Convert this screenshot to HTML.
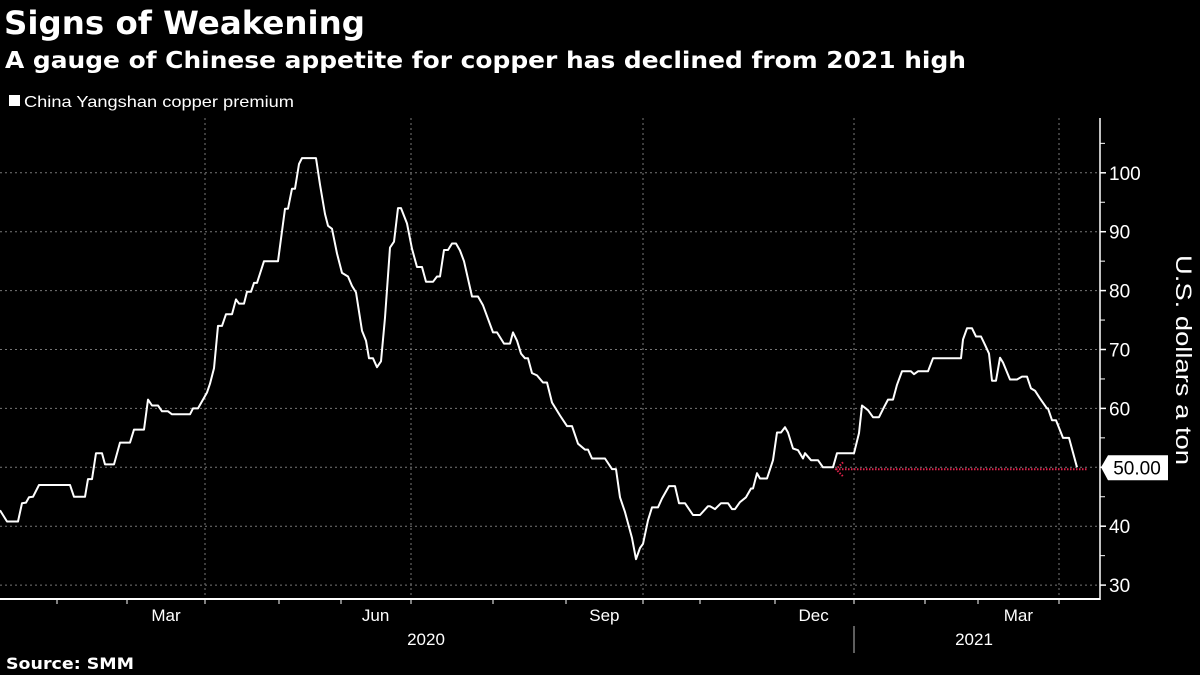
<!DOCTYPE html>
<html><head><meta charset="utf-8">
<style>
html,body{margin:0;padding:0;background:#000;}
svg{display:block;font-family:"Liberation Sans",sans-serif;}
</style></head>
<body>
<svg id="chart" width="1200" height="675" viewBox="0 0 1200 675" xmlns="http://www.w3.org/2000/svg">
<rect width="1200" height="675" fill="#000"/>
<text x="4" y="34" fill="#fff" font-size="32" font-weight="bold" textLength="361" lengthAdjust="spacingAndGlyphs" font-family="DejaVu Sans, sans-serif">Signs of Weakening</text>
<text x="5" y="68" fill="#fff" font-size="23" font-weight="bold" textLength="961" lengthAdjust="spacingAndGlyphs" font-family="DejaVu Sans, sans-serif">A gauge of Chinese appetite for copper has declined from 2021 high</text>
<rect x="9" y="95" width="11" height="11" fill="#fff"/>
<text x="24" y="107" fill="#fff" font-size="16" textLength="270" lengthAdjust="spacingAndGlyphs">China Yangshan copper premium</text>
<g id="grid"></g>
<g id="axes"></g>
<g id="series"></g>
<text transform="translate(1176,360) rotate(90)" text-anchor="middle" fill="#fff" font-size="22" textLength="210" lengthAdjust="spacingAndGlyphs">U.S. dollars a ton</text>
<text x="6" y="669" fill="#fff" font-size="16" font-weight="bold" textLength="128" lengthAdjust="spacingAndGlyphs" font-family="DejaVu Sans, sans-serif">Source: SMM</text>
</svg>
<script>
const days = [0,1.75,4.5,5.5,6.5,7.25,8.25,9.75,17.5,18.5,
21.25,22,23,24,25.5,26.25,28.5,30,32.5,33.5,
36,37,38,39.5,40.5,42,43,47.5,48.25,49.5,
51.75,52.5,53.5,54.5,55.5,56.5,58,59,59.75,61,
61.75,62.75,63.5,64.25,66,69.5,71.25,72,73,73.75,
74.75,75.5,79,80,81.25,82,83,84.25,85.5,87,
88,89,90.5,91.5,92.25,93.25,94.25,95.25,96.25,97.5,
98.5,99.5,100.25,101.75,103,104.25,105.5,106.5,108.25,109.25,
110,111,112,113,114,115,116,118,119.5,120.75,
123.25,124.25,126,127.5,128.25,129.25,130.25,131.25,132,133,
134.25,135.75,136.75,138,140,141.75,143,144.5,146.25,147,
148,151.25,153,154,155,156.25,158,159,160,160.75,
162,163,164.5,165.5,167.25,168.75,169.75,171.25,173.25,175,
177,177.5,178.75,180.25,182,183,183.75,185,186.5,187.75,
188.25,189.25,190,191.75,193.25,194.25,195.25,196.25,197,198.25,
199.5,200.75,201.25,202.75,204.5,205.75,208.25,209.25,213.5,214.75,
215.5,217,218.25,219.75,221,222,223.25,224.25,225.5,227.75,
228.5,229.5,232,233.25,240.25,240.75,241.75,243,244,245.25,
246.25,247.25,248,249,250,250.75,252.5,254.25,255.5,256.75,
257.75,258.75,260,261.75,262,263,264,265.75,267.25,269.25];
const premium = [42.7,40.8,40.8,43.9,44,44.9,45,47,47,45,
45,48,48,52.4,52.4,50.5,50.5,54.2,54.2,56.4,
56.4,61.5,60.5,60.5,59.5,59.5,59,59,60,60,
62.7,64.2,66.8,74,74,76,76,78.5,77.8,77.8,
79.8,79.8,81.3,81.3,85,85,93.9,93.9,97.3,97.3,
101.5,102.5,102.5,98,93,91,90.5,86.3,83,82.4,
80.8,79.7,73.2,71.5,68.5,68.5,67,68,75.4,87.3,
88.3,94,94,91.4,87.1,84,84,81.5,81.5,82.4,
82.4,86.9,86.9,88,88,86.8,85,79,79,77.5,
72.9,72.9,71,71,72.9,71.5,69.3,68.5,68.5,66,
65.6,64.4,64.4,61,58.8,57,57,54,53,53,
51.5,51.5,49.7,49.7,44.9,42.4,38,34.4,36.3,37,
41,43.2,43.2,44.7,46.8,46.8,43.9,43.9,41.9,41.9,
43.4,43.4,42.9,43.9,43.9,42.9,42.9,44.1,44.9,46.4,
46.4,49,48.1,48.1,51.2,55.9,55.9,56.8,55.9,53.2,
52.9,51.5,52.4,51.2,51.2,50,50,52.4,52.4,55.8,
60.5,59.7,58.5,58.5,60.2,61.5,61.5,64,66.3,66.3,
65.8,66.3,66.3,68.5,68.5,71.7,73.6,73.6,72.2,72.2,
70.8,69.3,64.7,64.7,68.6,67.8,64.9,64.9,65.4,65.4,
63.4,63,61.7,60,60,58,58,55,55,50];
const yTicks = [30,40,50,60,70,80,90,100];
const yMinorTicks = [35,45,55,65,75,85,95,105];
const monthTicks = [14.25,31.75,51.25,69.75,85.25,102.75,123.25,141.5,160.75,175,193.75,213.5,231.25,244.5,264.75];
const gridDays = [51.25,102.75,160.75,213.5,264.75];
const monthLabels = ["Mar","Jun","Sep","Dec","Mar"];
const monthLabelDays = [41.5,93.9,151.1,203.4,254.6];
const yearLabels = ["2020","2021"];
const yearLabelDays = [106.5,243.5];
const yearBoundary = [213.5];
const refStartDay = [209];

const NS="http://www.w3.org/2000/svg";
const X0=0, X1=1100, D0=0, D1=275;
const Y0=599, Y1=118;
function xs(d){return X0+(d-D0)/(D1-D0)*(X1-X0);}
function ys(v){return 467.3-(v-50)*5.89;}
function mk(tag,attrs,parent){const e=document.createElementNS(NS,tag);for(const k in attrs)e.setAttribute(k,attrs[k]);parent.appendChild(e);return e;}
const grid=document.getElementById('grid'), axes=document.getElementById('axes'), series=document.getElementById('series');

yTicks.forEach(v=>{
  const l=mk('line',{x1:0,x2:X1,y1:ys(v),y2:ys(v),stroke:'#777','stroke-width':1,'stroke-dasharray':'2,3'},grid);
  
  
  const t=mk('line',{x1:X1,x2:X1+6,y1:ys(v),y2:ys(v),stroke:'#fff','stroke-width':1.5},axes);
  
  
  const tx=mk('text',{x:X1+9,y:ys(v)+7,fill:'#fff','font-size':19},axes);
  tx.textContent=v;
  
  
});
yMinorTicks.forEach(v=>{
  const t=mk('line',{x1:X1,x2:X1+5,y1:ys(v),y2:ys(v),stroke:'#fff','stroke-width':1},axes);
  
  
});
gridDays.forEach(d=>{
  const l=mk('line',{x1:xs(d),x2:xs(d),y1:Y1,y2:Y0,stroke:'#777','stroke-width':1,'stroke-dasharray':'2,3'},grid);
  
  
});
const xa=mk('line',{x1:0,x2:X1,y1:Y0,y2:Y0,stroke:'#fff','stroke-width':2},axes);


const ya=mk('line',{x1:X1,x2:X1,y1:Y1,y2:Y0+1,stroke:'#fff','stroke-width':1.5},axes);


monthTicks.forEach(d=>{
  const t=mk('line',{x1:xs(d),x2:xs(d),y1:Y0,y2:Y0+5,stroke:'#fff','stroke-width':1},axes);
  
  
});
monthLabels.forEach((m,i)=>{
  const t=mk('text',{x:xs(monthLabelDays[i]),y:621,fill:'#fff','font-size':17,'text-anchor':'middle'},axes);
  t.textContent=m;
  
  
});
yearLabels.forEach((y,i)=>{
  const t=mk('text',{x:xs(yearLabelDays[i]),y:645,fill:'#fff','font-size':17,'text-anchor':'middle'},axes);
  t.textContent=y;
  
  
});
yearBoundary.forEach(d=>{
  const l=mk('line',{x1:xs(d),x2:xs(d),y1:626,y2:653,stroke:'#bbb','stroke-width':1},axes);
  
  
});

let dstr='';
days.forEach((d,i)=>{dstr+=(i?'L':'M')+xs(d).toFixed(1)+','+ys(premium[i]).toFixed(1);});
const p=mk('path',{d:dstr,fill:'none',stroke:'#fff','stroke-width':2,'stroke-linejoin':'round'},series);



const last=premium[premium.length-1];
const ry=ys(last)+2;
const ref=mk('line',{x1:xs(refStartDay[0]),x2:1088,y1:ry,y2:ry,stroke:'#e0204a','stroke-width':2,'stroke-dasharray':'1.5,1.5'},series);


const ah=mk('path',{d:`M${xs(refStartDay[0])+7},${ry-7}L${xs(refStartDay[0])},${ry}L${xs(refStartDay[0])+7},${ry+7}`,fill:'none',stroke:'#e0204a','stroke-width':2,'stroke-dasharray':'1.5,1.5'},series);



const ly=ys(last);
const lb=mk('path',{d:`M${X1+1},${ly}L${X1+8},${ly-12}L1168,${ly-12}L1168,${ly+13}L${X1+8},${ly+13}Z`,fill:'#fff'},series);


const lt=mk('text',{x:1137,y:ly+7,fill:'#000','font-size':19,'text-anchor':'middle'},series);
lt.textContent=last.toFixed(2);


</script>
</body></html>
